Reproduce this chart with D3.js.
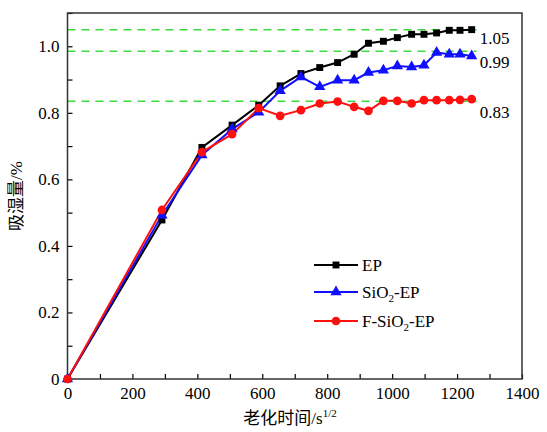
<!DOCTYPE html>
<html>
<head>
<meta charset="utf-8">
<script src="https://cdn.jsdelivr.net/npm/d3@7"></script>
<style>
  body { margin: 0; background: #fff; }
  svg text { font-family: "Times New Roman", "Liberation Serif", Tinos, "DejaVu Serif", serif; }
  svg text .cjk { font-family: "Noto Sans CJK SC", sans-serif; }
</style>
</head>
<body>
<svg id="chart" width="547" height="432"></svg>
<script>
// aging time (s^1/2)
const times = [0, 291, 414, 507, 589, 655, 719, 777, 832, 883, 927, 973, 1016, 1060, 1098, 1137, 1176, 1209, 1245];
const epVals = [0, 0.478, 0.696, 0.763, 0.823, 0.881, 0.918, 0.936, 0.951, 0.976, 1.009, 1.015, 1.026, 1.036, 1.036, 1.040, 1.048, 1.048, 1.050];
const sio2Vals = [0, 0.492, 0.673, 0.751, 0.802, 0.866, 0.908, 0.878, 0.898, 0.898, 0.921, 0.928, 0.941, 0.938, 0.943, 0.981, 0.976, 0.976, 0.971];
const fsio2Vals = [0, 0.508, 0.682, 0.736, 0.814, 0.791, 0.808, 0.828, 0.834, 0.818, 0.806, 0.836, 0.836, 0.828, 0.838, 0.838, 0.838, 0.839, 0.841];
const refLines = [1.05, 0.985, 0.835];
const refLabels = ["1.05", "0.99", "0.83"];
const xTicks = [0, 200, 400, 600, 800, 1000, 1200, 1400];
const yTicks = [0, 0.2, 0.4, 0.6, 0.8, 1.0];

const series = [
  {name: "EP", vals: epVals, color: "#000000", shape: d3.symbolSquare, size: 48},
  {name: "SiO2-EP", vals: sio2Vals, color: "#1010ff", shape: d3.symbolTriangle, size: 55},
  {name: "F-SiO2-EP", vals: fsio2Vals, color: "#ff1010", shape: d3.symbolCircle, size: 60}
];

const svg = d3.select("#chart");
const margin = {left: 67.5, right: 25, top: 13, bottom: 53};
const width = 547, height = 432;

const x = d3.scaleLinear().domain([0, 1400]).range([margin.left, width - margin.right]);
const y = d3.scaleLinear().domain([0, 1.1]).range([height - margin.bottom, margin.top]);

//dashed reference lines
svg.selectAll(".ref")
  .data(refLines)
  .enter()
  .append("line")
  .attr("x1", x(0))
  .attr("x2", x(1260))
  .attr("y1", d => y(d))
  .attr("y2", d => y(d))
  .attr("stroke", "#3cdc3c")
  .attr("stroke-width", 1.5)
  .attr("stroke-dasharray", "8,6");

svg.selectAll(".refLabel")
  .data(refLabels)
  .enter()
  .append("text")
  .attr("x", x(1270))
  .attr("y", (d, i) => [44, 68, 118][i])
  .attr("font-size", 17)
  .text(d => d);

// axes, ticks pointing inward
const xAxis = d3.axisBottom(x).tickValues(d3.range(0, 1401, 100)).tickSize(-5)
  .tickFormat(d => xTicks.includes(d) ? d : "");
const yAxis = d3.axisLeft(y).tickValues(d3.range(0, 1.11, 0.1)).tickSize(-5)
  .tickFormat(d => {
    const r = Math.round(d * 10) / 10;
    if (Math.round(r * 10) % 2 !== 0) return "";
    return r === 0 ? "0" : r.toFixed(1);
  });

const gx = svg.append("g")
  .attr("transform", "translate(0," + y(0) + ")")
  .call(xAxis)
  .attr("font-family", null);
gx.select(".domain").remove();
gx.selectAll("text").attr("font-size", 17).attr("fill", "#000").attr("dy", "1.0em");

const gy = svg.append("g")
  .attr("transform", "translate(" + x(0) + ",0)")
  .call(yAxis)
  .attr("font-family", null);
gy.select(".domain").remove();
gy.selectAll("text").attr("font-size", 17).attr("fill", "#000").attr("x", -8);

svg.selectAll(".tick line").attr("stroke", "#000").attr("stroke-width", 1.2);

// frame
svg.append("rect")
  .attr("x", x(0))
  .attr("y", y(1.1))
  .attr("width", x(1400) - x(0))
  .attr("height", y(0) - y(1.1))
  .attr("fill", "none")
  .attr("stroke", "#333")
  .attr("stroke-width", 1.5);

// series lines and markers
const line = d3.line()
  .x((d, i) => x(times[i]))
  .y(d => y(d));

series.forEach(s => {
  svg.append("path")
    .datum(s.vals)
    .attr("d", line)
    .attr("fill", "none")
    .attr("stroke", s.color)
    .attr("stroke-width", 2);
});

series.forEach(s => {
  svg.selectAll(null)
    .data(s.vals)
    .enter()
    .append("path")
    .attr("d", d3.symbol().type(s.shape).size(s.size))
    .attr("transform", (d, i) => "translate(" + x(times[i]) + "," + y(d) + ")")
    .attr("fill", s.color);
});

// legend
const legendY = [265, 292, 321];
series.forEach((s, i) => {
  const g = svg.append("g").attr("transform", "translate(314," + legendY[i] + ")");
  g.append("line").attr("x1", 0).attr("x2", 44).attr("stroke", s.color).attr("stroke-width", 2);
  g.append("path")
    .attr("d", d3.symbol().type(s.shape).size(s.size))
    .attr("transform", "translate(22,0)")
    .attr("fill", s.color);
  const t = g.append("text").attr("x", 48).attr("y", 6).attr("font-size", 17);
  if (s.name === "EP") {
    t.text("EP");
  } else {
    const pre = s.name === "SiO2-EP" ? "SiO" : "F-SiO";
    t.append("tspan").text(pre);
    t.append("tspan").attr("font-size", 11).attr("dy", 4).text("2");
    t.append("tspan").attr("dy", -4).text("-EP");
  }
});

// axis titles
const xt = svg.append("text")
  .attr("x", 290)
  .attr("y", 424)
  .attr("text-anchor", "middle")
  .attr("font-size", 17);
xt.append("tspan").attr("class", "cjk").text("老化时间");
xt.append("tspan").text("/s");
xt.append("tspan").attr("font-size", 11).attr("dy", -7).text("1/2");

svg.append("text")
  .attr("transform", "translate(22," + y(0.55) + ") rotate(-90)")
  .attr("text-anchor", "middle")
  .attr("font-size", 17)
  .call(t => {
    t.append("tspan").attr("class", "cjk").text("吸湿量");
    t.append("tspan").text("/%");
  });
</script>
</body>
</html>
